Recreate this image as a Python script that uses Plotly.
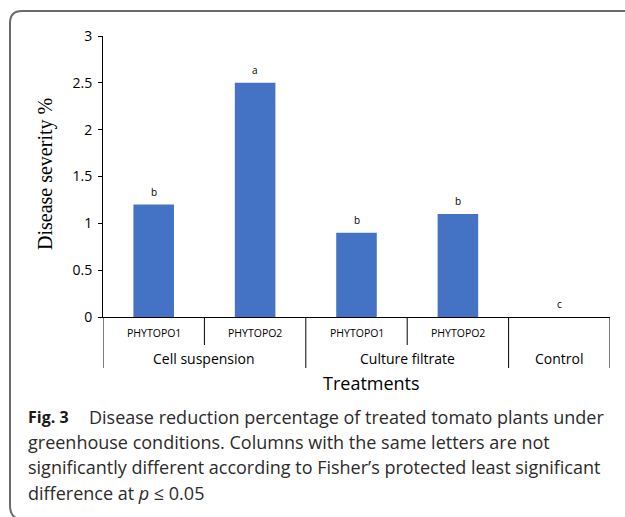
import plotly.graph_objects as go

# ---- data ----
subcats = ["PHYTOPO1", "PHYTOPO2", "PHYTOPO1", "PHYTOPO2", ""]
groups = ["Cell suspension", "Cell suspension", "Culture filtrate", "Culture filtrate", "Control"]
values = [1.2, 2.5, 0.9, 1.1, 0.0]
letters = ["b", "a", "b", "b", "c"]
group_names = ["Cell suspension", "Culture filtrate", "Control"]
y_ticks = [0, 0.5, 1, 1.5, 2, 2.5, 3]
y_tick_labels = ["0", "0.5", "1", "1.5", "2", "2.5", "3"]

W, H = 625, 517
L, R, T, B = 103, 610, 36, 317  # plot area in pixels


def px(x):
    return (x - L) / (R - L)


def py(y):
    return (B - y) / (B - T)


cats = [f"c{i}" for i in range(len(values))]

fig = go.Figure()
fig.add_trace(go.Bar(x=cats, y=values, marker_color="#4472C4", width=0.4,
                     marker_line_width=0, showlegend=False, hoverinfo="skip"))

fig.update_layout(
    width=W, height=H,
    margin=dict(l=L, r=W - R, t=T, b=H - B),
    paper_bgcolor="white", plot_bgcolor="white",
    font=dict(family="Open Sans", color="#000000"),
    xaxis=dict(type="category", categoryorder="array", categoryarray=cats,
               showticklabels=False, ticks="", showline=True, linecolor="black",
               linewidth=1, showgrid=False, zeroline=False, range=[-0.5, len(cats) - 0.5]),
    yaxis=dict(range=[0, 3], tickvals=y_ticks, ticktext=y_tick_labels, ticks="outside",
               ticklen=4, tickcolor="black", showline=True, linecolor="black", linewidth=1,
               showgrid=False, zeroline=False, tickfont=dict(size=14, family="Open Sans"),
               ticklabelstandoff=3),
)

# letters above bars
for c, v, t in zip(cats, values, letters):
    fig.add_annotation(x=c, y=v, text=t, showarrow=False, yshift=13,
                       xanchor="center", yanchor="middle",
                       font=dict(size=10, family="Open Sans"))

# subcategory labels
for i, s in enumerate(subcats):
    if s:
        fig.add_annotation(x=cats[i], y=py(333), yref="paper", text=s, showarrow=False,
                           xanchor="center", yanchor="middle",
                           font=dict(size=10.5, family="Open Sans"))

# group labels
for g in group_names:
    idx = [i for i, gg in enumerate(groups) if gg == g]
    fig.add_annotation(x=sum(idx) / len(idx), y=py(358), yref="paper", text=g,
                       showarrow=False, xanchor="center", yanchor="middle",
                       font=dict(size=14, family="Open Sans"))

# dividers
for i in range(len(cats) + 1):
    left = groups[i - 1] if i > 0 else None
    right = groups[i] if i < len(cats) else None
    long_div = left != right
    fig.add_shape(type="line", xref="x", yref="paper", x0=i - 0.5, x1=i - 0.5,
                  y0=py(317), y1=py(368 if long_div else 345),
                  line=dict(color="black", width=1))

# axis titles
fig.add_annotation(xref="paper", yref="paper", x=px(371), y=py(383), text="Treatments",
                   showarrow=False, xanchor="center", yanchor="middle",
                   font=dict(size=18, family="Open Sans"))
fig.add_annotation(xref="paper", yref="paper", x=px(45), y=py(174), text="Disease severity %",
                   textangle=-90, showarrow=False, xanchor="center", yanchor="middle",
                   font=dict(size=20, family="Liberation Serif"))

# caption
cap_color = "#2b2b2b"
fig.add_annotation(xref="paper", yref="paper", x=px(26), y=py(417), text="<b>Fig. 3</b>",
                   xanchor="left", yanchor="middle", showarrow=False,
                   font=dict(size=16, family="Open Sans", color="#1a1a1a"))
cap_lines = [
    "Disease reduction percentage of treated tomato plants under",
    "greenhouse conditions. Columns with the same letters are not",
    "significantly different according to Fisher’s protected least significant",
    "difference at <i>p</i> ≤ 0.05",
]
cap_x = [87, 26, 26, 26]
cap_y = [417, 442, 467, 493]
for t, x, y in zip(cap_lines, cap_x, cap_y):
    fig.add_annotation(xref="paper", yref="paper", x=px(x), y=py(y), text=t,
                       xanchor="left", yanchor="middle", showarrow=False,
                       font=dict(size=18, family="Open Sans", color=cap_color))

# frame
path = (f"M {px(626)},{py(11)} L {px(22)},{py(11)} Q {px(10)},{py(11)} {px(10)},{py(23)} "
        f"L {px(10)},{py(505)} Q {px(10)},{py(515)} {px(16)},{py(518)}")
fig.add_shape(type="path", xref="paper", yref="paper", path=path,
              line=dict(color="#6b6b6b", width=2))

fig.write_html("out.html", config={"displayModeBar": False},
               post_script="document.body.style.margin='0';")
